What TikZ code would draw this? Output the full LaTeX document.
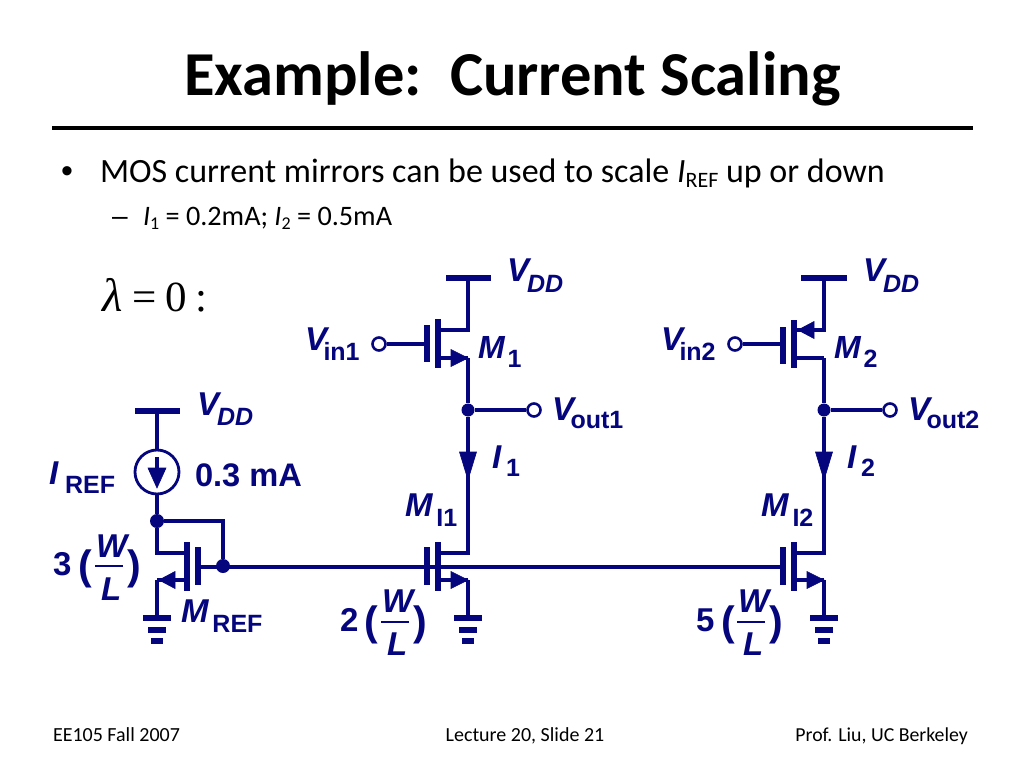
\documentclass[tikz,border=0pt]{standalone}
\usepackage[no-math]{fontspec}
\setmainfont{Carlito}
\newfontfamily\circfont{Liberation Sans}
\newfontfamily\mathfont{Liberation Serif}
\definecolor{circ}{RGB}{5,5,125}
\newcommand{\fsz}[1]{\fontsize{#1}{#1}\selectfont}
\newcommand{\bi}[2]{{\circfont\bfseries\itshape\fsz{#1}#2}}
\newcommand{\bu}[2]{{\circfont\bfseries\fsz{#1}#2}}
% symbol with subscript: font size, main letter, gap, drop, sub text
\newcommand{\symsub}[5]{\bi{#1}{#2}\hspace{#3pt}\raisebox{-#4pt}{#5}}
\tikzset{
  wire/.style={draw=circ,line width=3.2pt},
  bar/.style={draw=circ,line width=6pt},
  junction/.style={circle,fill=circ,draw=none,minimum size=14pt,inner sep=0pt},
  port/.style={circle,fill=white,draw=circ,line width=2.6pt,minimum size=13pt,inner sep=0pt},
  lab/.style={anchor=base west,inner sep=0pt,outer sep=0pt,text=circ},
  slide/.style={anchor=base west,inner sep=0pt,outer sep=0pt,text=black},
  head/.style={fill=circ,draw=circ,line width=0.6pt,line join=miter}
}
\newcommand{\mos}[4]{%
  \coordinate (#1cht) at (#3,542); \coordinate (#1chb) at (#3,591);
  \coordinate (#1gt) at (#4,547); \coordinate (#1gb) at (#4,585);
  \coordinate (#1d) at (#3,553); \coordinate (#1dw) at (#2,553);
  \coordinate (#1s) at (#3,580); \coordinate (#1sw) at (#2,580);
  \draw[bar] (#1cht) -- (#1chb);
  \draw[bar] (#1gt) -- (#1gb);
  \draw[wire,line join=miter] (#1d) -- (#1dw);
  \draw[wire] (#1s) -- (#1sw);
}
\newcommand{\gnd}[2]{%
  \coordinate (#1a) at (#2,618);
  \draw[wire] (#1sw) -- (#1a);
  \draw[bar] ($(#1a)+(-14,0)$) -- ($(#1a)+(14,0)$);
  \draw[bar] ($(#1a)+(-9,11.5)$) -- ($(#1a)+(9,11.5)$);
  \draw[bar] ($(#1a)+(-6,23)$) -- ($(#1a)+(6,23)$);
}
\newcommand{\wl}[9]{%
  \node[lab] (#1n) at (#2,#3) {\bu{33}{#4}};
  \node[lab] (#1pl) at (#5,#3+4) {{\circfont\bfseries\fsz{41}(}};
  \node[lab] (#1w) at (#6,#7) {\bi{33}{W}};
  \node[lab] (#1l) at (#6+5,#8) {\bi{33}{L}};
  \draw[draw=circ,line width=2.6pt] (#6-1,#9) -- (#6+27,#9);
  \node[lab] (#1pr) at (#6+31,#3+4) {{\circfont\bfseries\fsz{41})}};
}
\usetikzlibrary{calc}
\begin{document}
\begin{tikzpicture}[x=1pt,y=-1pt]
\useasboundingbox (0,0) rectangle (1024,768);
\fill[white] (0,0) rectangle (1024,768);

% slide frame
\node[anchor=base,inner sep=0pt,text=black] (title) at (512.5,95) {\fsz{62.5}\bfseries Example:\ \ Current Scaling};
\coordinate (ruleL) at (52,128); \coordinate (ruleR) at (973,128);
\draw[black,line width=4.5pt] (ruleL) -- (ruleR);
\node[slide] (bul) at (61,182) {{\circfont\fsz{34}•}};
\node[slide] (b1) at (100,182) {\fsz{34}MOS current mirrors can be used to scale \textit{I}\raisebox{-5pt}{\fsz{22}REF} up or down};
\node[slide] (dash) at (112,225) {{\circfont\fsz{28}–}};
\node[slide] (b2) at (143,225) {\fsz{28.2}\textit{I}\raisebox{-4pt}{\fsz{18}1} = 0.2mA; \textit{I}\raisebox{-4pt}{\fsz{18}2} = 0.5mA};
\node[slide] (lam) at (102,311) {\mathfont{\fsz{47}\itshape λ}\hspace{10pt}{\fsz{43}=}\hspace{9pt}{\fsz{43}0}\hspace{8pt}{\fsz{43}:}};
\node[slide] (f1) at (53,741) {\fsz{20}EE105 Fall 2007};
\node[anchor=base,inner sep=0pt,text=black] (f2) at (525,741) {\fsz{20}Lecture 20, Slide 21};
\node[anchor=base east,inner sep=0pt,text=black] (f3) at (968,741) {\fsz{19.8}Prof. Liu, UC Berkeley};

% gate bus
\node[junction] (jg) at (223,566) {};
\coordinate (busR) at (783,567);
\mos{R}{157}{187}{198}
\mos{A}{468}{438}{427}
\mos{B}{824}{794}{783}
\draw[wire] (198,567) -- (busR);

% left branch
\coordinate (vl) at (157,411);
\draw[bar] (135,411) -- (180,411);
\node[circle,draw=circ,line width=2.8pt,minimum size=44pt,inner sep=0pt,fill=white] (src) at (157,472) {};
\draw[wire] (vl) -- (src.north);
\coordinate (st) at (157,457); \coordinate (sm) at (157,470);
\draw[wire] (st) -- (sm);
\draw[head] (148,468) -- (166,468) -- (157,488) -- cycle;
\node[junction] (jr) at (157,521) {};
\draw[wire,line width=4pt] (src.south) -- (jr);
\draw[wire,line join=miter] (jr) -- (jr -| jg) -- (jg);
\draw[wire,line join=miter] (jr) -- (Rdw) -- (Rd);
\draw[head] (175,571.5) -- (175,588.5) -- (159,580) -- cycle;
\gnd{R}{157}

% middle branch
\coordinate (va) at (468,278);
\draw[bar] (446,278) -- (491,278);
\coordinate (m1d) at (441,330); \coordinate (m1dw) at (468,330);
\coordinate (m1s) at (441,358); \coordinate (m1sw) at (468,358);
\draw[bar] (438,319) -- (438,368);
\draw[bar] (427,325) -- (427,362);
\node[port] (pin1) at (379,344) {};
\coordinate (g1) at (427,344);
\draw[wire] (pin1) -- (g1);
\draw[wire,line join=miter] (va) -- (m1dw) -- (m1d);
\draw[wire] (m1s) -- (m1sw);
\draw[head] (451,349.5) -- (451,366.5) -- (468,358) -- cycle;
\node[junction,minimum size=13pt] (ja) at (468,410) {};
\node[port] (pout1) at (534,410) {};
\draw[wire] (m1sw) -- (ja);
\draw[wire] (ja) -- (pout1);
\draw[wire,line join=miter] (ja) -- (Adw) -- (Ad);
\draw[head] (459.5,452) -- (476.5,452) -- (468,480) -- cycle;
\draw[head] (451,571.5) -- (451,588.5) -- (468,580) -- cycle;
\gnd{A}{468}

% right branch
\coordinate (vb) at (824,278);
\draw[bar] (801,278) -- (847,278);
\coordinate (m2d) at (794,330); \coordinate (m2dw) at (824,330);
\coordinate (m2s) at (794,358); \coordinate (m2sw) at (824,358);
\draw[bar] (794,320) -- (794,368);
\draw[bar] (783,327) -- (783,364);
\node[port] (pin2) at (735,344) {};
\coordinate (g2) at (783,344);
\draw[wire] (pin2) -- (g2);
\draw[wire,line join=miter] (vb) -- (m2dw) -- (m2d);
\draw[wire] (m2s) -- (m2sw);
\draw[head] (814,321.5) -- (814,338.5) -- (798,330) -- cycle;
\node[junction,minimum size=13pt] (jb) at (824,410) {};
\node[port] (pout2) at (890,410) {};
\draw[wire] (m2sw) -- (jb);
\draw[wire] (jb) -- (pout2);
\draw[wire,line join=miter] (jb) -- (Bdw) -- (Bd);
\draw[head] (815.5,452) -- (832.5,452) -- (824,480) -- cycle;
\draw[head] (807,571.5) -- (807,588.5) -- (824,580) -- cycle;
\gnd{B}{824}

% circuit labels
\node[lab] (vdda) at (507,281) {\symsub{33}{V}{-2}{11}{\bi{25}{DD}}};
\node[lab] (vddb) at (863,281) {\symsub{33}{V}{-2}{11}{\bi{25}{DD}}};
\node[lab] (vddl) at (197,415) {\symsub{33}{V}{-2}{10}{\bi{25}{DD}}};
\node[lab] (vin1) at (305,350) {\symsub{33}{V}{-3.5}{10}{\bu{25}{in1}}};
\node[lab] (vin2) at (661,350) {\symsub{33}{V}{-3.5}{10}{\bu{25}{in2}}};
\node[lab] (vout1) at (552,420) {\symsub{33}{V}{-3.5}{8}{\bu{25}{out1}}};
\node[lab] (vout2) at (908,420) {\symsub{33}{V}{-3.5}{8}{\bu{25}{out2}}};
\node[lab] (m1) at (478,358) {\symsub{32}{M}{3}{9}{\bu{25}{1}}};
\node[lab] (m2) at (834,358) {\symsub{32}{M}{3}{9}{\bu{25}{2}}};
\node[lab] (i1) at (492,468) {\symsub{33}{I}{5}{8}{\bu{25}{1}}};
\node[lab] (i2) at (847,468) {\symsub{33}{I}{5}{8}{\bu{25}{2}}};
\node[lab] (mi1) at (405,516) {\symsub{33}{M}{4}{10}{\bu{25}{I1}}};
\node[lab] (mi2) at (761,516) {\symsub{33}{M}{4}{10}{\bu{25}{I2}}};
\node[lab] (iref) at (49,484) {\symsub{33}{I}{7}{9}{\bu{25}{REF}}};
\node[lab] (mref) at (181,622) {\symsub{33}{M}{4}{10}{\bu{25}{REF}}};
\node[lab] (cur) at (195,486) {\bu{32.6}{0.3 mA}};
\wl{wa}{53}{575}{3}{78}{96}{557}{600}{566}
\wl{wb}{340}{631}{2}{364}{382}{612}{655}{622}
\wl{wc}{696}{631}{5}{721}{738}{612}{655}{622}
\end{tikzpicture}
\end{document}
